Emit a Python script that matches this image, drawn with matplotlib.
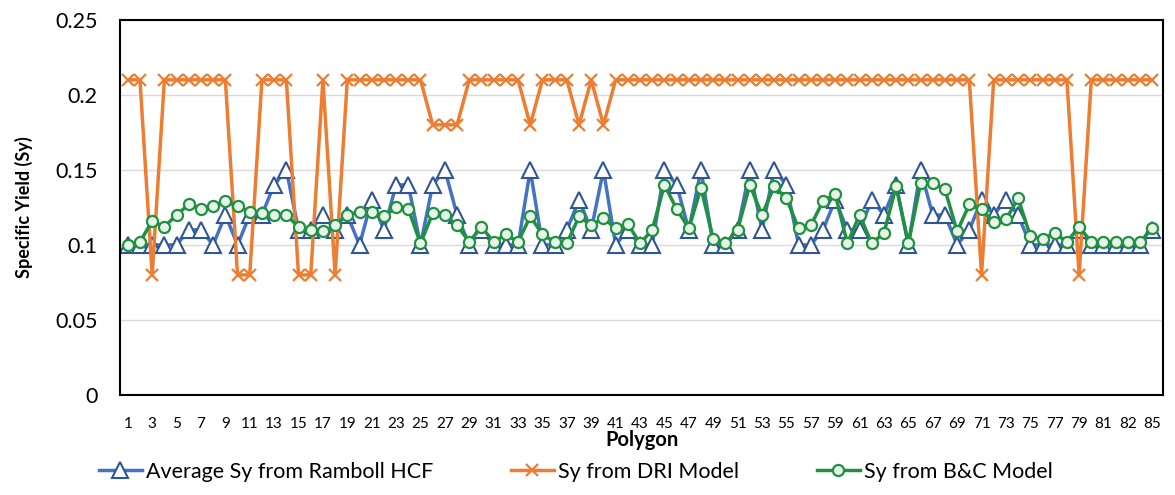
import numpy as np
import matplotlib
matplotlib.use('Agg')
import matplotlib.pyplot as plt

plt.rcParams['font.family'] = ['Lato', 'DejaVu Sans']

# Sy per polygon (85 polygons)
ramboll = [0.10, 0.10, 0.10, 0.10, 0.10, 0.11, 0.11, 0.10, 0.12, 0.10,
           0.12, 0.12, 0.14, 0.15, 0.11, 0.11, 0.12, 0.11, 0.12, 0.10,
           0.13, 0.11, 0.14, 0.14, 0.10, 0.14, 0.15, 0.12, 0.10, 0.11,
           0.10, 0.10, 0.10, 0.15, 0.10, 0.10, 0.11, 0.13, 0.11, 0.15,
           0.10, 0.11, 0.10, 0.10, 0.15, 0.14, 0.11, 0.15, 0.10, 0.10,
           0.11, 0.15, 0.11, 0.15, 0.14, 0.10, 0.10, 0.11, 0.13, 0.11,
           0.11, 0.13, 0.12, 0.14, 0.10, 0.15, 0.12, 0.12, 0.10, 0.11,
           0.13, 0.12, 0.13, 0.12, 0.10, 0.10, 0.10, 0.10, 0.11, 0.10,
           0.10, 0.10, 0.10, 0.10, 0.11]

dri = [0.21, 0.21, 0.08, 0.21, 0.21, 0.21, 0.21, 0.21, 0.21, 0.08,
       0.08, 0.21, 0.21, 0.21, 0.08, 0.08, 0.21, 0.08, 0.21, 0.21,
       0.21, 0.21, 0.21, 0.21, 0.21, 0.18, 0.18, 0.18, 0.21, 0.21,
       0.21, 0.21, 0.21, 0.18, 0.21, 0.21, 0.21, 0.18, 0.21, 0.18,
       0.21, 0.21, 0.21, 0.21, 0.21, 0.21, 0.21, 0.21, 0.21, 0.21,
       0.21, 0.21, 0.21, 0.21, 0.21, 0.21, 0.21, 0.21, 0.21, 0.21,
       0.21, 0.21, 0.21, 0.21, 0.21, 0.21, 0.21, 0.21, 0.21, 0.21,
       0.08, 0.21, 0.21, 0.21, 0.21, 0.21, 0.21, 0.21, 0.08, 0.21,
       0.21, 0.21, 0.21, 0.21, 0.21]

bc = [0.100, 0.102, 0.116, 0.112, 0.120, 0.127, 0.124, 0.126, 0.129, 0.126,
      0.122, 0.121, 0.120, 0.120, 0.112, 0.110, 0.109, 0.113, 0.120, 0.122,
      0.122, 0.119, 0.125, 0.124, 0.101, 0.121, 0.120, 0.113, 0.102, 0.112,
      0.102, 0.107, 0.102, 0.119, 0.107, 0.102, 0.101, 0.119, 0.113, 0.118,
      0.111, 0.114, 0.101, 0.110, 0.140, 0.124, 0.111, 0.138, 0.104, 0.101,
      0.110, 0.140, 0.120, 0.139, 0.131, 0.111, 0.113, 0.129, 0.134, 0.101,
      0.120, 0.101, 0.108, 0.139, 0.101, 0.141, 0.141, 0.137, 0.109, 0.127,
      0.124, 0.115, 0.117, 0.131, 0.106, 0.104, 0.108, 0.102, 0.112, 0.102,
      0.102, 0.102, 0.102, 0.102, 0.111]

# every other polygon is labelled on the axis
tick_labels = ['1', '3', '5', '7', '9', '11', '13', '15', '17', '19', '21',
               '23', '25', '27', '29', '31', '33', '35', '37', '39', '41',
               '43', '45', '47', '49', '51', '53', '55', '57', '59', '61',
               '63', '65', '67', '69', '71', '73', '75', '77', '79', '81',
               '82', '85']

x = np.arange(1, len(ramboll) + 1)

fig = plt.figure(figsize=(11.75, 4.95), dpi=100)
ax = fig.add_axes([0.102, 0.202, 0.888, 0.758])

ax.plot(x, ramboll, color='#4472c4', lw=2.5, marker='^', ms=11,
        mfc='white', mec='#2f5597', mew=1.5, label='Average Sy from Ramboll HCF')
ax.plot(x, dri, color='#ed7d31', lw=2.5, marker='x', ms=8, mew=1.6,
        label='Sy from DRI Model')
ax.plot(x, bc, color='#1f9140', lw=2.5, marker='o', ms=8,
        mfc='#e8f3ea', mec='#1f9140', mew=1.6, label='Sy from B&C Model')

ax.set_ylim(0, 0.25)
ax.set_yticks([0, 0.05, 0.1, 0.15, 0.2, 0.25])
ax.set_yticklabels(['0', '0.05', '0.1', '0.15', '0.2', '0.25'], fontsize=15.5)
ax.set_xlim(0.35, 85.9)
ax.set_xticks(x[::2])
ax.set_xticklabels(tick_labels, fontsize=11)
ax.tick_params(axis='y', length=0, pad=16)
ax.tick_params(axis='x', length=0, pad=16)

ax.grid(axis='y', color='#d9d9d9', lw=1)
ax.set_axisbelow(True)
for s in ax.spines.values():
    s.set_color('black')
    s.set_linewidth(1.5)

ax.set_ylabel('Specific Yield (Sy)', fontsize=13, fontweight='bold', labelpad=16)
ax.set_xlabel('Polygon', fontsize=14.5, fontweight='bold', labelpad=-1)

fig.legend(loc='lower center', bbox_to_anchor=(0.49, -0.012), ncol=3,
           frameon=False, fontsize=15.5, handlelength=2.0, handletextpad=0.2,
           columnspacing=3.6)

fig.savefig('out.png', dpi=100)
